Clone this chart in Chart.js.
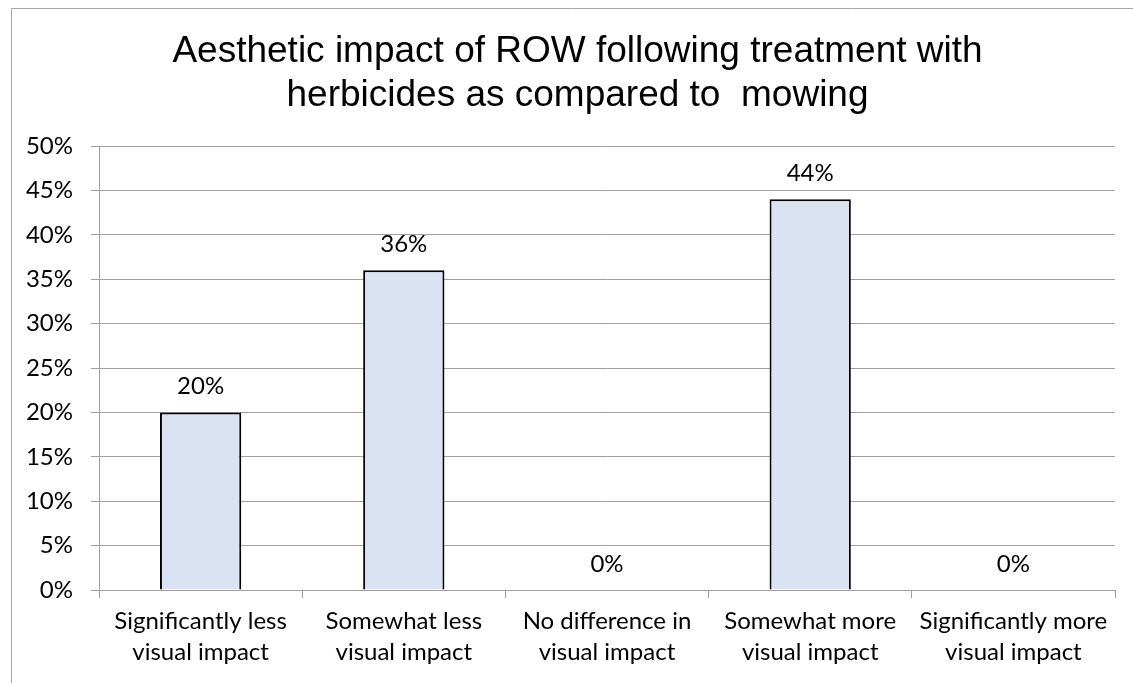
<!DOCTYPE html>
<html>
<head>
<meta charset="utf-8">
<script src="https://cdn.jsdelivr.net/npm/chart.js@4/dist/chart.umd.min.js"></script>
<style>
  html, body { margin: 0; padding: 0; background: #fff; }
  #wrap { width: 1133px; height: 683px; position: relative; }
</style>
</head>
<body>
<div id="wrap"><canvas id="c" width="1133" height="683"></canvas></div>
<script>
const titleLines = ['Aesthetic impact of ROW following treatment with', 'herbicides as compared to  mowing'];
const categories = [
  ['Significantly less', 'visual impact'],
  ['Somewhat less', 'visual impact'],
  ['No difference in', 'visual impact'],
  ['Somewhat more', 'visual impact'],
  ['Significantly more', 'visual impact']
];
const values = [0.20, 0.36, 0.00, 0.44, 0.00];
const yMin = 0, yMax = 0.5, yStep = 0.05;

const GRID = '#a0a0a0';
const LABEL_FONT = 'Lato';

const frame = {
  id: 'frame',
  afterDraw(chart) {
    const ctx = chart.ctx;
    ctx.save();
    ctx.strokeStyle = '#a6a6a6';
    ctx.lineWidth = 1;
    ctx.beginPath();
    ctx.moveTo(11.5, 683);
    ctx.lineTo(11.5, 8.5);
    ctx.lineTo(1133, 8.5);
    ctx.stroke();
    ctx.restore();
  }
};

// shift the title box so it is centred on the whole chart frame
const centerTitle = {
  id: 'centerTitle',
  afterLayout(chart) {
    const t = chart.titleBlock;
    if (t) { t.left = 22; t.right = 1133; t.width = t.right - t.left; }
  }
};

const barLabels = {
  id: 'barLabels',
  afterDatasetsDraw(chart) {
    const ctx = chart.ctx;
    const meta = chart.getDatasetMeta(0);
    ctx.save();
    ctx.fillStyle = '#000';
    ctx.font = '24px ' + LABEL_FONT;
    ctx.textAlign = 'center';
    ctx.textBaseline = 'alphabetic';
    meta.data.forEach((bar, i) => {
      const v = chart.data.datasets[0].data[i];
      ctx.fillText(Math.round(v * 100) + '%', bar.x, bar.y - 18);
    });
    ctx.restore();
  }
};

new Chart(document.getElementById('c'), {
  type: 'bar',
  data: {
    labels: categories,
    datasets: [{
      data: values,
      backgroundColor: '#dae3f3',
      borderColor: '#000',
      borderWidth: 2,
      barPercentage: 0.4,
      categoryPercentage: 1.0
    }]
  },
  options: {
    responsive: false,
    animation: false,
    layout: { padding: { left: 0, right: 18, top: 0, bottom: 0 } },
    plugins: {
      legend: { display: false },
      tooltip: { enabled: false },
      title: {
        display: true,
        text: titleLines,
        color: '#000',
        font: { family: 'Liberation Sans', size: 37, weight: 'normal', lineHeight: 1.19 },
        padding: { top: 30, bottom: 28 }
      }
    },
    scales: {
      x: {
        offset: true,
        grid: { offset: true, drawOnChartArea: false, drawTicks: true, tickLength: 8, color: GRID },
        border: { display: true, color: GRID },
        ticks: {
          color: '#000',
          padding: 8,
          maxRotation: 0,
          autoSkip: false,
          font: { family: LABEL_FONT, size: 24, lineHeight: 1.29 }
        },
        afterFit(scale) { scale.height = 93; }
      },
      y: {
        min: yMin,
        max: yMax,
        grid: { color: GRID, tickLength: 8 },
        border: { display: true, color: GRID },
        ticks: {
          stepSize: yStep,
          color: '#000',
          padding: 18,
          font: { family: LABEL_FONT, size: 24 },
          callback: (v) => Math.round(v * 100) + '%'
        },
        afterFit(scale) { scale.width = 99; }
      }
    }
  },
  plugins: [frame, centerTitle, barLabels]
});
</script>
</body>
</html>
